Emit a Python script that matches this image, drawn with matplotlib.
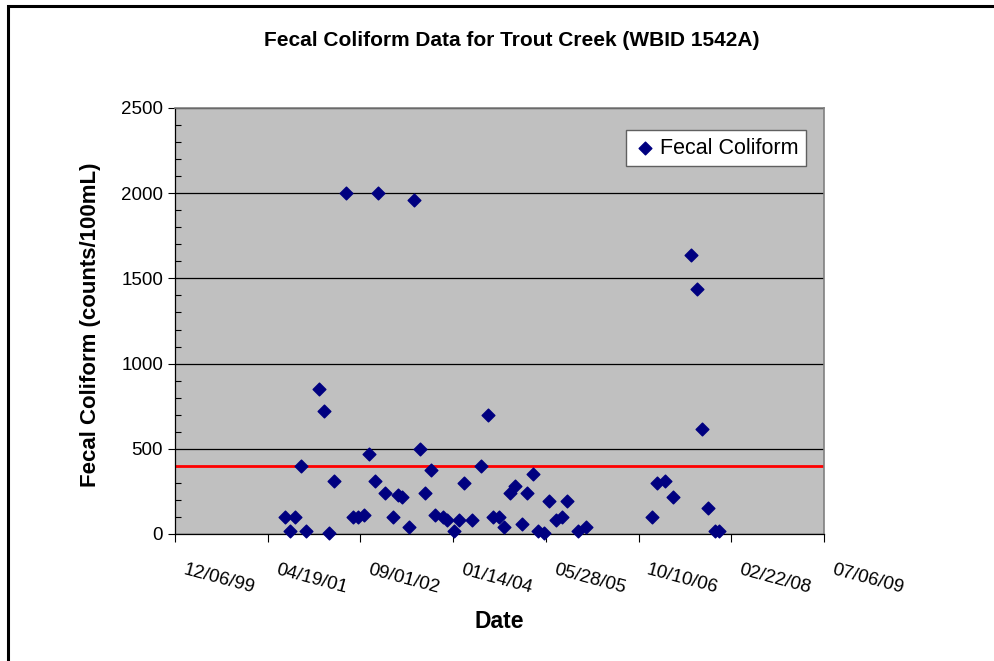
import numpy as np
import matplotlib
matplotlib.use('Agg')
import matplotlib.pyplot as plt
import matplotlib.dates as mdates
from matplotlib.patches import Rectangle
from matplotlib.ticker import MultipleLocator, FixedLocator
import datetime as dt

# Sample dates and fecal coliform values (counts/100mL)
sample_dates = [
    '2001-07-19', '2001-08-17', '2001-09-15', '2001-10-14', '2001-11-12',
    '2002-01-19', '2002-02-17', '2002-03-17', '2002-04-13', '2002-06-15',
    '2002-07-21', '2002-08-21', '2002-09-20', '2002-10-17', '2002-11-16',
    '2002-12-06', '2003-01-14', '2003-02-21', '2003-03-20', '2003-04-15',
    '2003-05-19', '2003-06-19', '2003-07-19', '2003-08-15', '2003-09-14',
    '2003-10-10', '2003-11-22', '2003-12-12', '2004-01-19', '2004-02-17',
    '2004-03-15', '2004-04-25', '2004-06-11', '2004-07-21', '2004-08-15',
    '2004-09-16', '2004-10-16', '2004-11-14', '2004-12-12', '2005-01-20',
    '2005-02-18', '2005-03-19', '2005-04-17', '2005-05-19', '2005-06-15',
    '2005-07-22', '2005-08-25', '2005-09-21', '2005-11-16', '2005-12-30',
    '2006-12-20', '2007-01-16', '2007-02-27', '2007-04-15', '2007-07-22',
    '2007-08-21', '2007-09-19', '2007-10-18', '2007-11-28', '2007-12-16',
]
fecal_values = [
    100, 16, 100, 400, 16,
    850, 720, 5, 310, 2000,
    100, 100, 110, 470, 310,
    2000, 240, 100, 230, 215,
    40, 1960, 500, 240, 375,
    110, 100, 80, 15, 80,
    300, 80, 400, 700, 100,
    100, 40, 240, 280, 60,
    240, 350, 15, 5, 195,
    80, 100, 195, 15, 40,
    100, 300, 310, 215, 1635,
    1435, 615, 155, 17, 16,
]
standard_value = 400  # red reference line

# x axis as in the spreadsheet: 12/06/99 to 07/06/09, tick every 500 days
x_start = dt.date(1999, 12, 6)
x_step_days = 500
n_ticks = 8

dates = [dt.datetime.strptime(d, '%Y-%m-%d') for d in sample_dates]
xnum = mdates.date2num(dates)
tick_dates = [x_start + dt.timedelta(days=x_step_days * i) for i in range(n_ticks)]
tick_nums = mdates.date2num(tick_dates)

plt.rcParams['font.family'] = ['Liberation Sans', 'DejaVu Sans']

fig = plt.figure(figsize=(9.94, 6.61), dpi=100)
fig.patches.append(Rectangle((8 / 994, -0.1), 1.2, 1 - 6 / 661 + 0.1,
                             transform=fig.transFigure, fill=False,
                             edgecolor='black', linewidth=2.2))

ax = fig.add_axes([175 / 994, 1 - 534 / 661, 649 / 994, 426 / 661])
ax.set_facecolor('#C0C0C0')

ax.scatter(xnum, fecal_values, marker='D', s=42, color='#000080',
           zorder=3, label='Fecal Coliform', clip_on=False)
ax.axhline(standard_value, color='#FF0000', linewidth=2, zorder=2)

ax.set_xlim(tick_nums[0], tick_nums[-1])
ax.set_ylim(0, 2500)

ax.yaxis.set_major_locator(MultipleLocator(500))
ax.yaxis.set_minor_locator(MultipleLocator(100))
ax.xaxis.set_major_locator(FixedLocator(tick_nums))
ax.grid(axis='y', which='major', color='black', linewidth=0.9)
ax.set_axisbelow(True)

ax.tick_params(axis='y', which='major', direction='out', length=5,
               labelsize=13.5, width=0.8)
ax.tick_params(axis='y', which='minor', direction='in', length=4, width=0.8)
ax.tick_params(axis='x', which='major', direction='out', length=6,
               width=0.8, labelbottom=False)

for s in ['top', 'right']:
    ax.spines[s].set_color('#808080')
    ax.spines[s].set_linewidth(1.2)
for s in ['left', 'bottom']:
    ax.spines[s].set_color('black')
    ax.spines[s].set_linewidth(0.9)

# slanted date labels
for t in tick_nums:
    ax.annotate(mdates.num2date(t).strftime('%m/%d/%y'), xy=(t, 0),
                xycoords='data', xytext=(6, -26), textcoords='offset points',
                rotation=-15, rotation_mode='anchor', ha='left', va='center',
                fontsize=13.5, annotation_clip=False)

fig.text(512 / 994, 1 - 40 / 661,
         'Fecal Coliform Data for Trout Creek (WBID 1542A)',
         ha='center', va='center', fontsize=15, fontweight='bold')
fig.text(499 / 994, 1 - 622 / 661, 'Date', ha='center', va='center',
         fontsize=16.5, fontweight='bold')
fig.text(91 / 994, 1 - 325 / 661, 'Fecal Coliform (counts/100mL)',
         ha='center', va='center', rotation=90, fontsize=16,
         fontweight='bold')

leg = ax.legend(loc='upper right', bbox_to_anchor=(0.972, 0.948),
                borderaxespad=0, fontsize=15.5, frameon=True, fancybox=False,
                handletextpad=0.2, handlelength=1.0, borderpad=0.35,
                scatterpoints=1)
leg.get_frame().set_edgecolor('#606060')
leg.get_frame().set_facecolor('white')
leg.get_frame().set_linewidth(1.0)
leg.get_frame().set_alpha(1)

fig.savefig('out.png', dpi=100)
